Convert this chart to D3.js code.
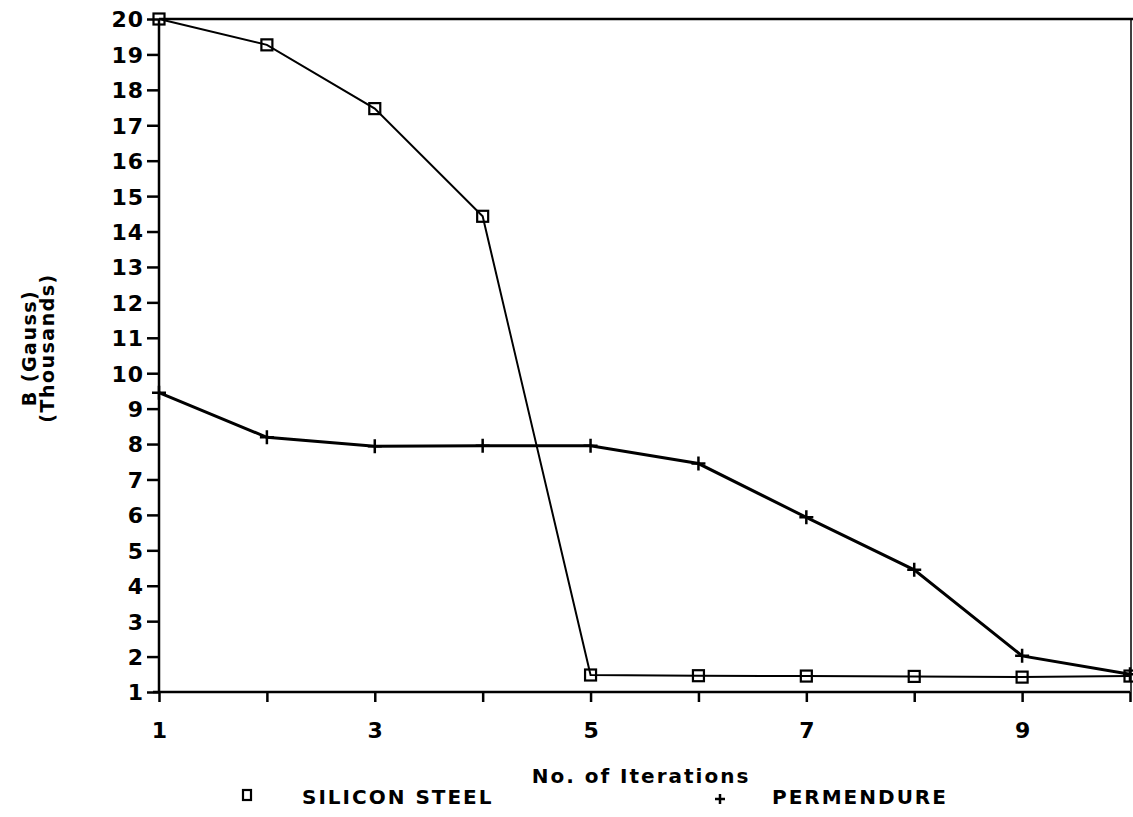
<!DOCTYPE html>
<html>
<head>
<meta charset="utf-8">
<script src="https://cdn.jsdelivr.net/npm/d3@7/dist/d3.min.js"></script>
<style>
  html, body { margin: 0; padding: 0; background: #fff; }
  svg { display: block; }
  text { font-family: "DejaVu Sans", sans-serif; font-weight: bold; fill: #000; }
</style>
</head>
<body>
<script>
const iterations = [1, 2, 3, 4, 5, 6, 7, 8, 9, 10];
const siliconSteel = [20.0, 19.27, 17.47, 14.43, 1.48, 1.46, 1.45, 1.44, 1.42, 1.45];
const permendure = [9.45, 8.19, 7.94, 7.95, 7.95, 7.45, 5.93, 4.45, 2.02, 1.5];
const yTicks = [1,2,3,4,5,6,7,8,9,10,11,12,13,14,15,16,17,18,19,20];
const xTicks = [1,2,3,4,5,6,7,8,9,10];
const xTickLabels = ["1","","3","","5","","7","","9",""];
const seriesNames = ["SILICON STEEL", "PERMENDURE"];
const xTitle = "No. of Iterations";
const yTitle = ["B (Gauss)", "(Thousands)"];

const W = 1133, H = 817;
const svg = d3.select("body").append("svg").attr("width", W).attr("height", H);

const x = d3.scaleLinear().domain([1, 10]).range([159, 1130]);
const y = d3.scaleLinear().domain([1, 20]).range([692, 19]);

// frame
svg.append("line").attr("x1", x(1)).attr("x2", W).attr("y1", y(20)).attr("y2", y(20))
  .attr("stroke", "#000").attr("stroke-width", 2.5);
svg.append("line").attr("x1", x(10)+1).attr("x2", x(10)+1).attr("y1", y(20)).attr("y2", y(1))
  .attr("stroke", "#000").attr("stroke-width", 1.5);

// y axis
const yAxis = d3.axisLeft(y).tickValues(yTicks).tickSize(12).tickPadding(3).tickFormat(d3.format("d"));
const gy = svg.append("g").attr("transform", `translate(${x(1)},0)`).call(yAxis);
gy.attr("font-family", null).attr("font-size", null);
gy.select(".domain").attr("stroke-width", 2.5).attr("d", `M0,${y(20)}V${y(1)}`);
gy.selectAll(".tick line").attr("stroke-width", 2.5);
gy.selectAll(".tick text").style("font-size", "22px").style("letter-spacing", "1px")
  .attr("dy", "0.36em");

// x axis
const xAxis = d3.axisBottom(x).tickValues(xTicks).tickSize(10).tickPadding(20)
  .tickFormat((d, i) => xTickLabels[i]);
const gx = svg.append("g").attr("transform", `translate(0,${y(1)})`).call(xAxis);
gx.attr("font-family", null).attr("font-size", null);
gx.select(".domain").attr("stroke-width", 2.5).attr("d", `M${x(1)-6},0H${x(10)}`);
gx.selectAll(".tick line").attr("stroke-width", 2.5);
gx.selectAll(".tick text").style("font-size", "22px");

// lines
const line = d3.line().x((d, i) => x(iterations[i])).y(d => y(d));
svg.append("path").datum(siliconSteel).attr("d", line)
  .attr("fill", "none").attr("stroke", "#000").attr("stroke-width", 2);
svg.append("path").datum(permendure).attr("d", line)
  .attr("fill", "none").attr("stroke", "#000").attr("stroke-width", 3);

// markers
const sq = 11;
svg.append("g").selectAll("rect").data(siliconSteel).join("rect")
  .attr("x", (d, i) => x(iterations[i]) - sq/2).attr("y", d => y(d) - sq/2)
  .attr("width", sq).attr("height", sq)
  .attr("fill", "none").attr("stroke", "#000").attr("stroke-width", 2.2);
const pl = 7;
svg.append("g").selectAll("path").data(permendure).join("path")
  .attr("d", (d, i) => {
    const cx = x(iterations[i]), cy = y(d);
    return `M${cx-pl},${cy}H${cx+pl}M${cx},${cy-pl}V${cy+pl}`;
  })
  .attr("stroke", "#000").attr("stroke-width", 2.5).attr("fill", "none");

// axis titles
svg.append("text").attr("x", 641).attr("y", 783).attr("text-anchor", "middle")
  .style("font-size", "20px").style("letter-spacing", "2px").text(xTitle);
const yt = svg.append("text").attr("transform", "translate(36,348) rotate(-90)")
  .attr("text-anchor", "middle").style("font-size", "19px").style("letter-spacing", "1.5px");
yt.append("tspan").attr("x", 0).attr("dy", 0).text(yTitle[0]);
yt.append("tspan").attr("x", 0).attr("dy", "0.95em").text(yTitle[1]);

// legend
svg.append("rect").attr("x", 243).attr("y", 790).attr("width", 8).attr("height", 10)
  .attr("fill", "none").attr("stroke", "#000").attr("stroke-width", 2.2);
svg.append("text").attr("x", 302).attr("y", 804).style("font-size", "20px")
  .style("letter-spacing", "2px").text(seriesNames[0]);
svg.append("path").attr("d", "M715,799H725M720,794V804").attr("stroke", "#000").attr("stroke-width", 2.5);
svg.append("text").attr("x", 772).attr("y", 804).style("font-size", "20px")
  .style("letter-spacing", "2px").text(seriesNames[1]);
</script>
</body>
</html>
